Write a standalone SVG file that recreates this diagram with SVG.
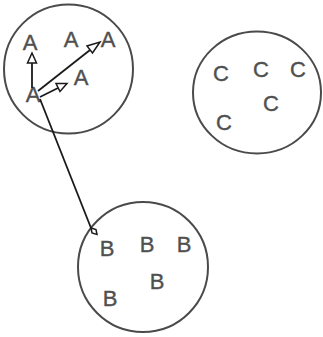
<svg xmlns="http://www.w3.org/2000/svg" width="323" height="337" viewBox="0 0 323 337">
<style>
.ring{fill:none;stroke:#4a4a4a;stroke-width:2}
.lbl{font-family:"Liberation Sans",Arial,sans-serif;font-size:22px;fill:#505050;stroke:#505050;stroke-width:0.4;text-anchor:middle}
.conn{fill:none;stroke:#1a1a1a;stroke-width:1.8}
.head{fill:#fff;stroke:#1a1a1a;stroke-width:1.5}
</style>
<rect width="323" height="337" fill="#fff"/>
<g id="clusterA">
<circle class="ring" cx="68.5" cy="69" r="64.5"/>
<text class="lbl" x="30" y="50">A</text>
<text class="lbl" x="71" y="47">A</text>
<text class="lbl" x="108" y="47">A</text>
<text class="lbl" x="81" y="85">A</text>
<text class="lbl" x="33" y="102">A</text>
</g>
<g id="clusterC">
<ellipse class="ring" cx="257" cy="92.5" rx="64" ry="61"/>
<text class="lbl" x="221" y="81">C</text>
<text class="lbl" x="261" y="77">C</text>
<text class="lbl" x="298" y="77">C</text>
<text class="lbl" x="271" y="111">C</text>
<text class="lbl" x="224" y="130">C</text>
</g>
<g id="clusterB">
<circle class="ring" cx="143" cy="267" r="65"/>
<text class="lbl" x="107" y="256">B</text>
<text class="lbl" x="147" y="252">B</text>
<text class="lbl" x="184" y="252">B</text>
<text class="lbl" x="157" y="289">B</text>
<text class="lbl" x="110" y="306">B</text>
</g>
<g id="connectors">
<line class="conn" x1="32" y1="88" x2="32" y2="63"/>
<path class="head" d="M32,53 L36.5,63 L27.5,63 Z"/>
<line class="conn" x1="38" y1="91" x2="90" y2="50"/>
<path class="head" d="M100,42 L92.5,53 L87,46 Z"/>
<line class="conn" x1="40" y1="97" x2="58" y2="88"/>
<path class="head" d="M67,83.5 L60,91.5 L56,83.5 Z"/>
<line class="conn" x1="40" y1="99" x2="91" y2="228"/>
<path class="head" d="M91,228 L96,229.5 L97,234.5 L92,233 Z"/>
</g>
</svg>
